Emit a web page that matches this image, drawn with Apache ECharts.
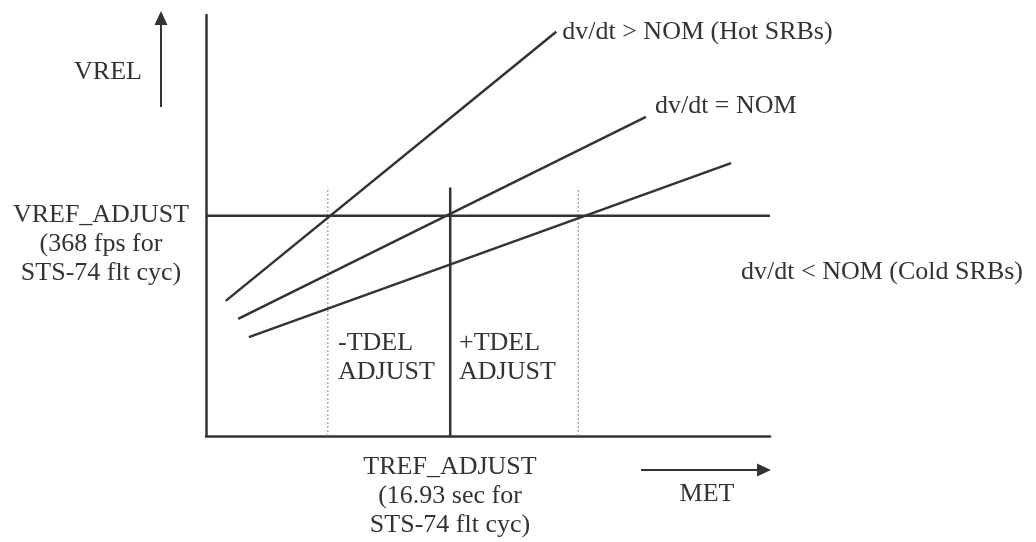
<!DOCTYPE html>
<html>
<head>
<meta charset="utf-8">
<script src="https://cdn.jsdelivr.net/npm/echarts@6/dist/echarts.min.js"></script>
<style>
html,body{margin:0;padding:0;background:#fff;}
#chart{width:1036px;height:542px;}
</style>
</head>
<body>
<div id="chart"></div>
<script>
// Schematic units (MET on x, VREL on y)
const xRange = [0, 100];
const yRange = [0, 100];
const vrefAdjust = 52.3;      // VREF_ADJUST level
const trefAdjust = 43.3;      // TREF_ADJUST time
const tdelMinusT = 21.6;      // -TDEL crossing
const tdelPlusT = 66.0;       // +TDEL crossing
const markerTop = 59;         // top of vertical markers
const hotLine  = [[3.5, 32.1], [62.1, 96.0]];
const nomLine  = [[5.7, 27.8], [78.0, 75.8]];
const coldLine = [[7.6, 23.5], [93.1, 64.8]];
const lineNames = ['dv/dt > NOM (Hot SRBs)', 'dv/dt = NOM', 'dv/dt < NOM (Cold SRBs)'];

const ink = '#333';
const font = 'Liberation Serif, Times New Roman, serif';
const fs = 26;

const chart = echarts.init(document.getElementById('chart'), null, {renderer: 'canvas'});

function solid(name, data, labelText, offset) {
  const s = {
    name: name, type: 'line', data: data, symbol: 'none', animation: false,
    lineStyle: {color: ink, width: 2.5}, silent: true
  };
  if (labelText) {
    s.endLabel = {show: true, formatter: labelText, color: ink, fontFamily: font, fontSize: fs,
      distance: 6, offset: offset || [0, 0]};
  }
  return s;
}
function dotted(name, data) {
  return {name: name, type: 'line', data: data, symbol: 'none', animation: false, silent: true,
    lineStyle: {color: '#999', width: 1.2, type: [2, 2]}};
}

function txt(x, y, text, align) {
  return {type: 'text', x: x, y: y, silent: true,
    style: {text: text, fill: ink, font: fs + 'px ' + font, align: align || 'left',
      verticalAlign: 'middle', lineHeight: 29}};
}

chart.setOption({
  animation: false,
  backgroundColor: '#fff',
  grid: {left: 206, right: 266, top: 15, bottom: 106},
  xAxis: {type: 'value', min: xRange[0], max: xRange[1],
    axisLine: {show: true, lineStyle: {color: ink, width: 2.5}},
    axisTick: {show: false}, axisLabel: {show: false}, splitLine: {show: false}},
  yAxis: {type: 'value', min: yRange[0], max: yRange[1],
    axisLine: {show: true, lineStyle: {color: ink, width: 2.5}},
    axisTick: {show: false}, axisLabel: {show: false}, splitLine: {show: false}},
  series: [
    dotted('-TDEL', [[tdelMinusT, 0], [tdelMinusT, markerTop]]),
    dotted('+TDEL', [[tdelPlusT, 0], [tdelPlusT, markerTop]]),
    solid('VREF', [[xRange[0], vrefAdjust], [xRange[1], vrefAdjust]]),
    solid('TREF', [[trefAdjust, 0], [trefAdjust, markerTop]]),
    solid('hot', hotLine, lineNames[0], [0, 0]),
    solid('nom', nomLine, lineNames[1], [3, -11]),
    solid('cold', coldLine, lineNames[2], [4, 109])
  ],
  graphic: [
    // VREL arrow
    {type: 'line', silent: true, shape: {x1: 161, y1: 107, x2: 161, y2: 22}, style: {stroke: ink, lineWidth: 2}},
    {type: 'polygon', silent: true, shape: {points: [[161, 11], [154.5, 25], [167.5, 25]]}, style: {fill: ink}},
    // MET arrow
    {type: 'line', silent: true, shape: {x1: 641, y1: 470, x2: 760, y2: 470}, style: {stroke: ink, lineWidth: 2}},
    {type: 'polygon', silent: true, shape: {points: [[771, 470], [757, 463.5], [757, 476.5]]}, style: {fill: ink}},
    txt(108, 72, 'VREL', 'center'),
    txt(101, 244, 'VREF_ADJUST\n(368 fps for\nSTS-74 flt cyc)', 'center'),
    txt(338, 358, '-TDEL\nADJUST', 'left'),
    txt(459, 358, '+TDEL\nADJUST', 'left'),
    txt(450, 496, 'TREF_ADJUST\n(16.93 sec for\nSTS-74 flt cyc)', 'center'),
    txt(707, 494, 'MET', 'center')
  ]
});
</script>
</body>
</html>
